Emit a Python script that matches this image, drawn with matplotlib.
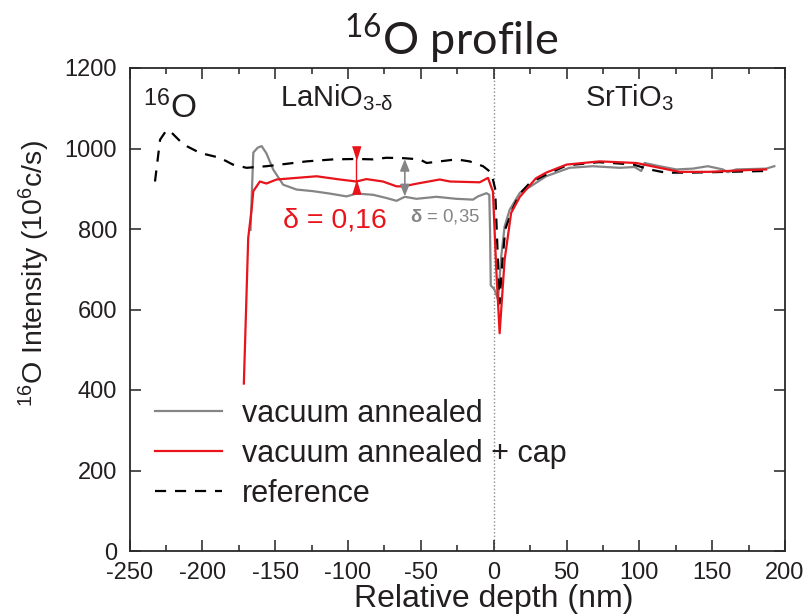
import matplotlib
matplotlib.use("Agg")
import matplotlib.pyplot as plt
from matplotlib.ticker import MultipleLocator

plt.rcParams['font.family'] = ['Liberation Sans', 'DejaVu Sans']
plt.rcParams['mathtext.fontset'] = 'custom'
plt.rcParams['mathtext.rm'] = 'Liberation Sans'
plt.rcParams['mathtext.it'] = 'Liberation Sans:italic'
plt.rcParams['mathtext.bf'] = 'Liberation Sans:bold'
plt.rcParams['axes.unicode_minus'] = False

# ---------------- data ----------------
gray_x = [-166.9, -165.0, -162.0, -159.3, -156.0, -151.4, -144.5, -135.3, -124.0, -112.5,
          -101.0, -94.2, -82.8, -73.6, -66.7, -61.0, -53.0, -39.3, -25.6, -14.2, -10.8,
          -5.0, -3.0, -2.5, -2.0, 0.5, 3.0, 5.0, 7.5, 11.0, 18.0, 25.0, 36.0, 52.0, 68.0,
          86.4, 96.7, 101.3, 103.6, 113.9, 125.3, 136.7, 147.0, 157.3, 160.7, 166.5,
          187.0, 192.7]
gray_y = [798, 990, 1002, 1006, 988, 948, 910, 898, 894, 888,
          881, 888, 885, 877, 870, 880, 875, 880, 875, 873, 881,
          889, 885, 800, 660, 650, 625, 725, 806, 848, 890, 905, 931, 952, 956,
          952, 954, 944, 964, 956, 948, 950, 956, 948, 941, 948,
          950, 956]

red_x = [-171.5, -168.5, -166.2, -165.0, -160.5, -156.0, -149.0, -135.3, -121.6, -105.6,
         -94.2, -87.3, -76.0, -66.7, -62.2, -50.8, -37.0, -30.0, -9.6, -3.9, -0.5, 1.8,
         4.1, 7.5, 12.0, 18.0, 29.0, 36.0, 50.0, 72.7, 97.9, 113.9, 127.6, 148.0, 171.0,
         187.0]
red_y = [416, 778, 848, 894, 918, 913, 923, 927, 931, 923,
         918, 924, 918, 906, 906, 914, 923, 918, 916, 927, 893, 698,
         541, 723, 840, 880, 926, 940, 960, 968, 964, 952, 942, 942, 946,
         948]

ref_x = [-232.5, -229.0, -224.5, -221.0, -213.0, -201.6, -188.0, -179.0, -169.6, -156.0,
         -142.0, -128.5, -110.0, -94.0, -83.0, -73.6, -62.0, -50.8, -46.0, -37.0, -25.6,
         -16.5, -7.3, -1.6, 1.0, 2.5, 4.0, 6.0, 8.0, 13.0, 18.0, 25.0, 36.0, 50.0, 72.0,
         85.0, 96.0, 107.0, 118.0, 135.0, 160.0, 185.0]
ref_y = [918, 1022, 1046, 1039, 1010, 989, 977, 960, 952, 956,
         962, 968, 973, 974, 973, 977, 976, 973, 964, 968, 973,
         968, 956, 940, 900, 760, 615, 720, 800, 850, 888, 915, 935, 958, 966,
         963, 960, 948, 940, 940, 942, 944]

series_labels = ["vacuum annealed", "vacuum annealed + cap", "reference"]
x_ticks = [-250, -200, -150, -100, -50, 0, 50, 100, 150, 200]
y_ticks = [0, 200, 400, 600, 800, 1000, 1200]

# annotation values
red_arrow_x, red_arrow_top, red_arrow_bot = -94.2, 972, 918
gray_arrow_x, gray_arrow_top, gray_arrow_bot = -61.0, 974, 881

RED = '#e8131b'
GRAY = '#858585'
TXT = '#231f20'

fig = plt.figure(figsize=(8.07, 6.16), dpi=100)
ax = fig.add_axes([129.5 / 807, 1 - 551 / 616, 655.5 / 807, 483 / 616])

ax.axvline(0, color='#8c8c8c', lw=1.0, ls=(0, (1, 1.6)), zorder=1)

l_gray, = ax.plot(gray_x, gray_y, color=GRAY, lw=1.6, zorder=3, label=series_labels[0])
l_ref, = ax.plot(ref_x, ref_y, color='black', lw=1.6, ls=(0, (5, 4)), zorder=4, label=series_labels[2])
l_red, = ax.plot(red_x, red_y, color=RED, lw=1.6, zorder=5, label=series_labels[1])

# red delta marker
ax.plot([red_arrow_x, red_arrow_x], [red_arrow_top, red_arrow_bot], color=RED, lw=1.0, zorder=6)
tri_down = [(-0.62, 1), (0.62, 1), (0, -1)]
tri_up = [(-0.62, -1), (0.62, -1), (0, 1)]
ax.plot([red_arrow_x], [red_arrow_top + 16], marker=tri_down, ms=9.5, color=RED, mec=RED, zorder=6)
ax.plot([red_arrow_x], [red_arrow_bot - 14], marker=tri_up, ms=9.5, color=RED, mec=RED, zorder=6)

# gray double arrow
ax.annotate('', xy=(gray_arrow_x, gray_arrow_top), xytext=(gray_arrow_x, gray_arrow_bot),
            arrowprops=dict(arrowstyle='<|-|>,head_length=0.7,head_width=0.28',
                            color=GRAY, lw=1.2, shrinkA=0, shrinkB=0), zorder=6)

ax.text(-144.7, 803, 'δ = 0,16', color=RED, fontsize=20.5, ha='left', va='baseline')
ax.text(-57.6, 818, r'$\mathbf{δ}$ = 0,35', color=GRAY, fontsize=13.4, ha='left', va='baseline')

ax.text(-241, 1075, r'$\mathregular{^{16}}$O', color=TXT, fontsize=24, ha='left', va='baseline')
ax.text(-146.8, 1104, r'LaNiO$\mathregular{_{3\text{-}δ}}$', color=TXT, fontsize=21,
        ha='left', va='baseline')
ax.text(62.4, 1104, r'SrTiO$\mathregular{_3}$', color=TXT, fontsize=21, ha='left', va='baseline')

ax.set_xlim(-250, 200)
ax.set_ylim(0, 1200)
ax.set_xticks(x_ticks)
ax.set_yticks(y_ticks)
ax.xaxis.set_minor_locator(MultipleLocator(25))
ax.tick_params(which='both', direction='in', top=True, right=True, labelsize=17,
               colors=TXT, width=1.1)
ax.tick_params(which='major', length=8)
ax.tick_params(axis='x', which='major', pad=8)
ax.tick_params(axis='y', which='major', pad=9)
ax.tick_params(which='minor', length=4.5)
for lab in ax.get_yticklabels():
    lab.set_verticalalignment('center_baseline')
for s in ax.spines.values():
    s.set_linewidth(1.3)
    s.set_color('#2a2a2a')

leg = ax.legend(handles=[l_gray, l_red, l_ref], loc='upper left',
                bbox_to_anchor=((155 - 129.5) / 655.5, (551 - 399) / 483),
                frameon=False, fontsize=22, borderpad=0, borderaxespad=0,
                handlelength=2.2, handletextpad=0.65, labelspacing=0.33)
for t in leg.get_texts():
    t.set_color(TXT)

fig.text(494 / 807, 1 - 607 / 616, 'Relative depth (nm)', fontsize=23, color=TXT,
         ha='center', va='baseline')
fig.text(34 / 807, 1 - 274 / 616, r'$\mathregular{^{16}}$O Intensity (10$\mathregular{^6}$c/s)',
         fontsize=20.5, color=TXT, rotation=90, ha='center', va='center')
fig.text(451 / 807, 1 - 54 / 616, r'$\mathregular{^{16}}$O profile', fontsize=32.5,
         family=['Lato', 'DejaVu Sans'], color=TXT, ha='center', va='baseline')

fig.savefig('out.png', dpi=100)
